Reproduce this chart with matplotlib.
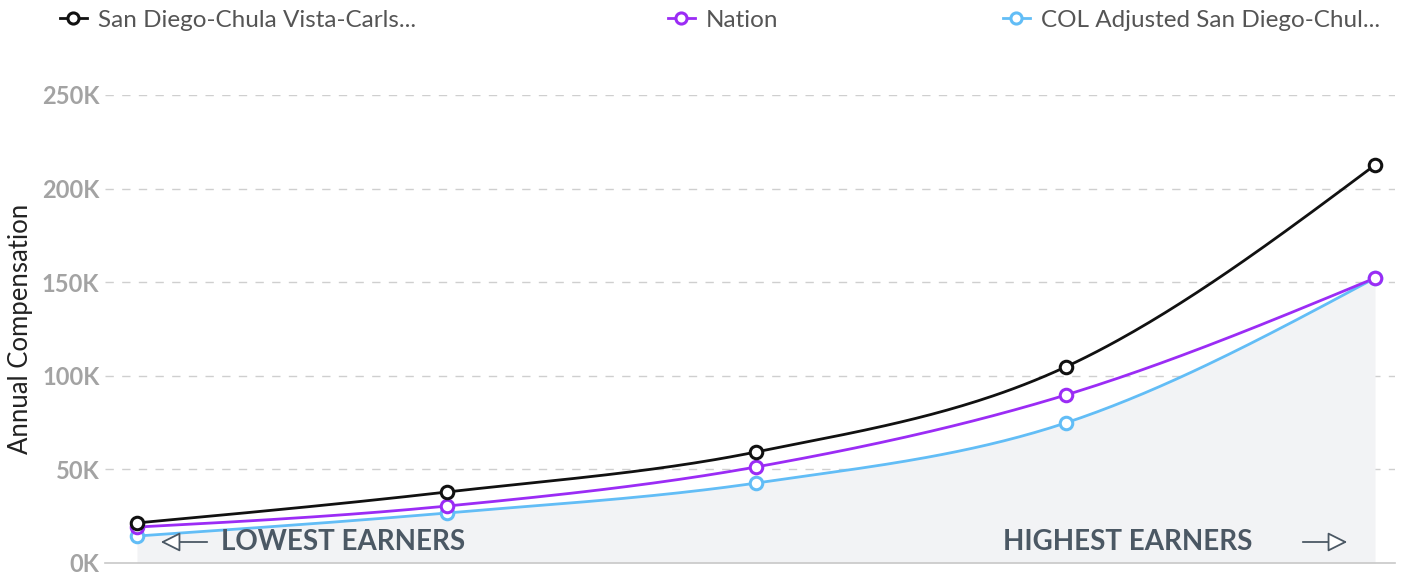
import numpy as np
import matplotlib
matplotlib.use("Agg")
import matplotlib.pyplot as plt
from matplotlib.lines import Line2D
from matplotlib.patches import FancyArrowPatch

plt.rcParams['font.family'] = ['Lato', 'DejaVu Sans']

categories = ["10th", "25th", "50th", "75th", "90th"]
san_diego = [21400, 37900, 59300, 104700, 212600]
nation = [19200, 30400, 51300, 89700, 152200]
col_adjusted = [14400, 26700, 42700, 74800, 152200]
series_names = ["San Diego-Chula Vista-Carls...", "Nation", "COL Adjusted San Diego-Chul..."]
yticks = [0, 50000, 100000, 150000, 200000, 250000]
ytick_labels = ["0K", "50K", "100K", "150K", "200K", "250K"]

colors = ["#111111", "#9b2cf5", "#62bdf6"]


def monotone_x(x, y, n=60):
    """d3 curveMonotoneX-style rendering of the points."""
    x = np.asarray(x, float); y = np.asarray(y, float)
    h = np.diff(x); s = np.diff(y) / h
    m = np.zeros_like(y)
    for k in range(1, len(x) - 1):
        h0, h1 = h[k - 1], h[k]
        s0, s1 = s[k - 1], s[k]
        p = (s0 * h1 + s1 * h0) / (h0 + h1)
        m[k] = (np.sign(s0) + np.sign(s1)) * min(abs(s0), abs(s1), 0.5 * abs(p))
    m[0] = (3 * s[0] - m[1]) / 2
    m[-1] = (3 * s[-1] - m[-2]) / 2
    xs, ys = [], []
    for k in range(len(x) - 1):
        t = np.linspace(0, 1, n, endpoint=(k == len(x) - 2))
        h00 = 2 * t**3 - 3 * t**2 + 1; h10 = t**3 - 2 * t**2 + t
        h01 = -2 * t**3 + 3 * t**2; h11 = t**3 - t**2
        xs.append(x[k] + t * h[k])
        ys.append(h00 * y[k] + h10 * h[k] * m[k] + h01 * y[k + 1] + h11 * h[k] * m[k + 1])
    return np.concatenate(xs), np.concatenate(ys)


fig = plt.figure(figsize=(14.16, 5.75), dpi=100)
ax = fig.add_axes([105 / 1416, 1 - 563 / 575, 1290 / 1416, 468 / 575])

x = np.arange(len(categories))
allseries = [san_diego, nation, col_adjusted]

fx, fy = monotone_x(x, col_adjusted)
ax.fill_between(fx, 0, fy, color="#f2f3f5", zorder=1, lw=0)

for s, c, z in zip(allseries, colors, [4, 3, 2]):
    sx, sy = monotone_x(x, s)
    ax.plot(sx, sy, color=c, lw=2.0, zorder=z)
    ax.plot(x, s, 'o', ms=9, mfc='white', mec=c, mew=2.2, zorder=z + 5)

ax.set_xlim(-32 / 309.5, 4 + 20 / 309.5)
ax.set_ylim(0, 250000)
ax.set_yticks(yticks)
ax.set_yticklabels(ytick_labels, fontsize=17, fontweight='bold', color="#a3a3a3")
ax.set_xticks([])
for sp in ["top", "right", "left"]:
    ax.spines[sp].set_visible(False)
ax.spines["bottom"].set_color("#c8c8c8")
ax.spines["bottom"].set_linewidth(1.2)
ax.tick_params(axis='y', length=0, pad=4)
for yv in yticks[1:]:
    ax.axhline(yv, color="#cfcfcf", lw=1.0, ls=(0, (6, 6)), zorder=0)
ax.set_ylabel("Annual Compensation", fontsize=18.5, color="#222222", labelpad=8)
ax.yaxis.set_label_coords(-72 / 1290, 0.5)

fig.text(221 / 1416, 1 - 542 / 575, "LOWEST EARNERS", fontsize=20, fontweight='bold',
         color="#4b5864", va='center', ha='left')
fig.text(1252 / 1416, 1 - 542 / 575, "HIGHEST EARNERS", fontsize=20, fontweight='bold',
         color="#4b5864", va='center', ha='right')
for (x0, x1) in [(210, 158), (1300, 1350)]:
    fig.add_artist(FancyArrowPatch((x0 / 1416, 1 - 542 / 575), (x1 / 1416, 1 - 542 / 575),
                   transform=fig.transFigure, arrowstyle='-|>,head_length=12,head_width=6',
                   fc='white', ec='#4b5864', lw=1.3, mutation_scale=1))

leg_x = [60, 668, 1003]
for name, c, lx in zip(series_names, colors, leg_x):
    h = Line2D([0], [0], color=c, lw=2.0, marker='o', ms=8, mfc='white', mec=c, mew=2.2)
    lg = fig.legend([h], [name], loc='center left', bbox_to_anchor=(lx / 1416, 1 - 20 / 575),
                    frameon=False, fontsize=17.5, handlelength=1.1, handletextpad=0.45,
                    borderaxespad=0, borderpad=0)
    for t in lg.get_texts():
        t.set_color("#555555")

fig.savefig("out.png", dpi=100, facecolor="white")
